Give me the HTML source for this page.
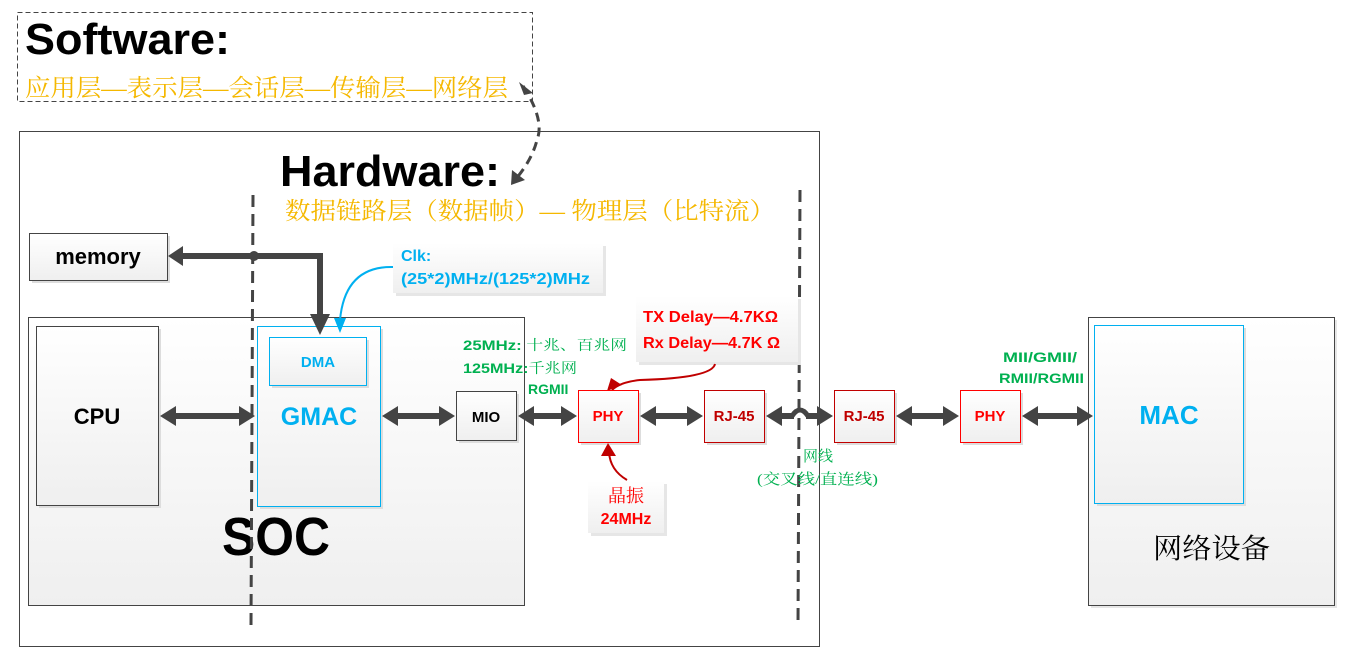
<!DOCTYPE html>
<html><head><meta charset="utf-8"><style>
html,body{margin:0;padding:0;background:#fff;width:1369px;height:663px;overflow:hidden}
svg text{font-family:"Liberation Sans","Noto Sans CJK SC",sans-serif}
.s{font-family:"Liberation Serif","Noto Serif CJK SC",serif}
</style></head><body>
<svg width="1369" height="663" xmlns="http://www.w3.org/2000/svg">
<defs>
<linearGradient id="g" x1="0" y1="0" x2="0" y2="1"><stop offset="0" stop-color="#ffffff"/><stop offset="1" stop-color="#efefef"/></linearGradient>
</defs>
<!-- Software box -->
<rect x="17.5" y="12.5" width="515" height="89" fill="none" stroke="#444" stroke-dasharray="5,3"/>
<text x="25" y="54" font-size="44" font-weight="bold" fill="#000" textLength="205" lengthAdjust="spacingAndGlyphs">Software:</text>
<text x="25" y="96" font-size="24" fill="#f5b800" class="s" textLength="483" lengthAdjust="spacingAndGlyphs">应用层—表示层—会话层—传输层—网络层</text>
<!-- Hardware box -->
<rect x="19.5" y="131.5" width="800" height="515" fill="none" stroke="#444"/>
<text x="280" y="186" font-size="44" font-weight="bold" fill="#000" textLength="220" lengthAdjust="spacingAndGlyphs">Hardware:</text>
<text x="285" y="219" font-size="24" fill="#f5b800" class="s" textLength="490" lengthAdjust="spacingAndGlyphs">数据链路层（数据帧）— 物理层（比特流）</text>
<!-- dashed curved arrow -->
<path d="M523 86 Q545 120 537 140 Q532 160 515 180" fill="none" stroke="#444" stroke-width="3" stroke-dasharray="9,6"/>
<polygon points="519,82 533,93 524,95" fill="#444"/>
<polygon points="511,185 512,170 525,180" fill="#444"/>
<!-- SOC box -->
<rect x="28.5" y="317.5" width="496" height="288" fill="url(#g)" stroke="#444"/>
<text x="222" y="555" font-size="54" font-weight="bold" fill="#000" textLength="108" lengthAdjust="spacingAndGlyphs">SOC</text>
<!-- CPU -->
<rect x="39" y="329" width="122" height="179" fill="#ddd"/>
<rect x="36.5" y="326.5" width="122" height="179" fill="url(#g)" stroke="#444"/>
<text x="97" y="424" font-size="22" font-weight="bold" text-anchor="middle">CPU</text>
<!-- GMAC -->
<rect x="260" y="329" width="123" height="180" fill="#ddd"/>
<rect x="257.5" y="326.5" width="123" height="180" fill="url(#g)" stroke="#00b0f0"/>
<text x="319" y="425" font-size="25" font-weight="bold" fill="#00b0f0" text-anchor="middle">GMAC</text>
<rect x="272" y="340" width="97" height="48" fill="#ddd"/>
<rect x="269.5" y="337.5" width="97" height="48" fill="url(#g)" stroke="#00b0f0"/>
<text x="318" y="367" font-size="15" font-weight="bold" fill="#00b0f0" text-anchor="middle">DMA</text>
<!-- memory -->
<rect x="32" y="236" width="138" height="47" fill="#ddd"/>
<rect x="29.5" y="233.5" width="138" height="47" fill="url(#g)" stroke="#444"/>
<text x="98" y="264" font-size="22" font-weight="bold" text-anchor="middle">memory</text>
<!-- Clk box -->
<rect x="396" y="246" width="210" height="50" fill="#e6e6e6"/>
<rect x="393" y="243" width="210" height="50" fill="url(#g)"/>
<text x="401" y="261" font-size="16" font-weight="bold" fill="#00b0f0">Clk:</text>
<text x="401" y="284" font-size="16" font-weight="bold" fill="#00b0f0" textLength="189" lengthAdjust="spacingAndGlyphs">(25*2)MHz/(125*2)MHz</text>
<path d="M393 267 Q345 266 340 320" fill="none" stroke="#00b0f0" stroke-width="2"/>
<polygon points="334,318 346,318 340,333" fill="#00b0f0"/>
<!-- memory arrow -->
<path d="M320 315 L320 256 L180 256" fill="none" stroke="#444" stroke-width="6"/>
<polygon points="168,256 183,246 183,266" fill="#444"/>
<polygon points="310,314 330,314 320,335" fill="#444"/>
<circle cx="254" cy="256" r="5" fill="#444"/>
<!-- dashed verticals -->
<line x1="253" y1="195" x2="251" y2="626" stroke="#444" stroke-width="3" stroke-dasharray="12,7"/>
<line x1="800" y1="190" x2="798" y2="626" stroke="#444" stroke-width="3" stroke-dasharray="12,7"/>
<!-- MIO -->
<rect x="459" y="394" width="60" height="49" fill="#ddd"/>
<rect x="456.5" y="391.5" width="60" height="49" fill="url(#g)" stroke="#444"/>
<text x="486" y="422" font-size="15" font-weight="bold" text-anchor="middle">MIO</text>
<!-- green labels -->
<text x="463" y="350" font-size="14" font-weight="bold" fill="#00b050" textLength="164" lengthAdjust="spacingAndGlyphs">25MHz: <tspan class="s" font-weight="normal">十兆、百兆网</tspan></text>
<text x="463" y="373" font-size="14" font-weight="bold" fill="#00b050" textLength="114" lengthAdjust="spacingAndGlyphs">125MHz:<tspan class="s" font-weight="normal">千兆网</tspan></text>
<text x="528" y="394" font-size="14" font-weight="bold" fill="#00b050">RGMII</text>
<!-- Delay box -->
<rect x="639" y="299" width="162" height="66" fill="#e6e6e6"/>
<rect x="636" y="296" width="162" height="66" fill="url(#g)"/>
<text x="643" y="322" font-size="16" font-weight="bold" fill="#ff0000" textLength="135" lengthAdjust="spacingAndGlyphs">TX Delay—4.7KΩ</text>
<text x="643" y="348" font-size="16" font-weight="bold" fill="#ff0000" textLength="137" lengthAdjust="spacingAndGlyphs">Rx Delay—4.7K Ω</text>
<path d="M715 364 Q712 378 640 380 Q620 382 612 390" fill="none" stroke="#c00000" stroke-width="2"/>
<polygon points="607,391 611,378 622,385" fill="#c00000"/>
<!-- PHY -->
<rect x="581" y="393" width="60" height="52" fill="#ddd"/>
<rect x="578.5" y="390.5" width="60" height="52" fill="url(#g)" stroke="#ff0000"/>
<text x="608" y="421" font-size="15" font-weight="bold" fill="#ff0000" text-anchor="middle">PHY</text>
<!-- crystal -->
<rect x="591" y="484" width="76" height="52" fill="#e6e6e6"/>
<rect x="588" y="481" width="76" height="52" fill="url(#g)"/>
<text x="626" y="502" font-size="18" fill="#ff0000" text-anchor="middle" class="s">晶振</text>
<text x="626" y="524" font-size="16" font-weight="bold" fill="#ff0000" text-anchor="middle">24MHz</text>
<path d="M627 480 Q610 470 609 452" fill="none" stroke="#c00000" stroke-width="2"/>
<polygon points="608,443 601,456 616,456" fill="#c00000"/>
<!-- RJ-45 1 -->
<rect x="707" y="393" width="60" height="52" fill="#ddd"/>
<rect x="704.5" y="390.5" width="60" height="52" fill="url(#g)" stroke="#c00000"/>
<text x="734" y="421" font-size="15" font-weight="bold" fill="#c00000" text-anchor="middle">RJ-45</text>
<!-- RJ-45 2 -->
<rect x="837" y="393" width="60" height="52" fill="#ddd"/>
<rect x="834.5" y="390.5" width="60" height="52" fill="url(#g)" stroke="#c00000"/>
<text x="864" y="421" font-size="15" font-weight="bold" fill="#c00000" text-anchor="middle">RJ-45</text>
<text x="803" y="461" font-size="15" fill="#00b050" class="s">网线</text>
<text x="757" y="484" font-size="15" fill="#00b050" class="s" textLength="121" lengthAdjust="spacingAndGlyphs">(交叉线/直连线)</text>
<!-- PHY 2 -->
<rect x="963" y="393" width="60" height="52" fill="#ddd"/>
<rect x="960.5" y="390.5" width="60" height="52" fill="url(#g)" stroke="#ff0000"/>
<text x="990" y="421" font-size="15" font-weight="bold" fill="#ff0000" text-anchor="middle">PHY</text>
<text x="1003" y="362" font-size="14" font-weight="bold" fill="#00b050" textLength="74" lengthAdjust="spacingAndGlyphs">MII/GMII/</text>
<text x="999" y="383" font-size="14" font-weight="bold" fill="#00b050" textLength="85" lengthAdjust="spacingAndGlyphs">RMII/RGMII</text>
<!-- net device -->
<rect x="1091" y="320" width="246" height="288" fill="#e6e6e6"/>
<rect x="1088.5" y="317.5" width="246" height="288" fill="url(#g)" stroke="#444"/>
<rect x="1097" y="328" width="149" height="178" fill="#ddd"/>
<rect x="1094.5" y="325.5" width="149" height="178" fill="url(#g)" stroke="#00b0f0"/>
<text x="1169" y="424" font-size="26" font-weight="bold" fill="#00b0f0" text-anchor="middle">MAC</text>
<text x="1153" y="558" font-size="28" fill="#000" class="s" textLength="117" lengthAdjust="spacingAndGlyphs">网络设备</text>
<!-- double arrows -->
<g fill="#444">
<rect x="170" y="413" width="74" height="6"/><polygon points="160,416 176,406 176,426"/><polygon points="255,416 239,406 239,426"/>
<rect x="392" y="413" width="52" height="6"/><polygon points="382,416 398,406 398,426"/><polygon points="455,416 439,406 439,426"/>
<rect x="528" y="413" width="38" height="6"/><polygon points="518,416 534,406 534,426"/><polygon points="577,416 561,406 561,426"/>
<rect x="650" y="413" width="42" height="6"/><polygon points="640,416 656,406 656,426"/><polygon points="703,416 687,406 687,426"/>
<rect x="776" y="413" width="18" height="6"/><rect x="806" y="413" width="16" height="6"/><polygon points="766,416 782,406 782,426"/><polygon points="833,416 817,406 817,426"/>
<rect x="906" y="413" width="42" height="6"/><polygon points="896,416 912,406 912,426"/><polygon points="959,416 943,406 943,426"/>
<rect x="1032" y="413" width="50" height="6"/><polygon points="1022,416 1038,406 1038,426"/><polygon points="1093,416 1077,406 1077,426"/>
</g>
<path d="M792 416 Q800 404 808 416" fill="none" stroke="#444" stroke-width="5"/>
</svg>
</body></html>
